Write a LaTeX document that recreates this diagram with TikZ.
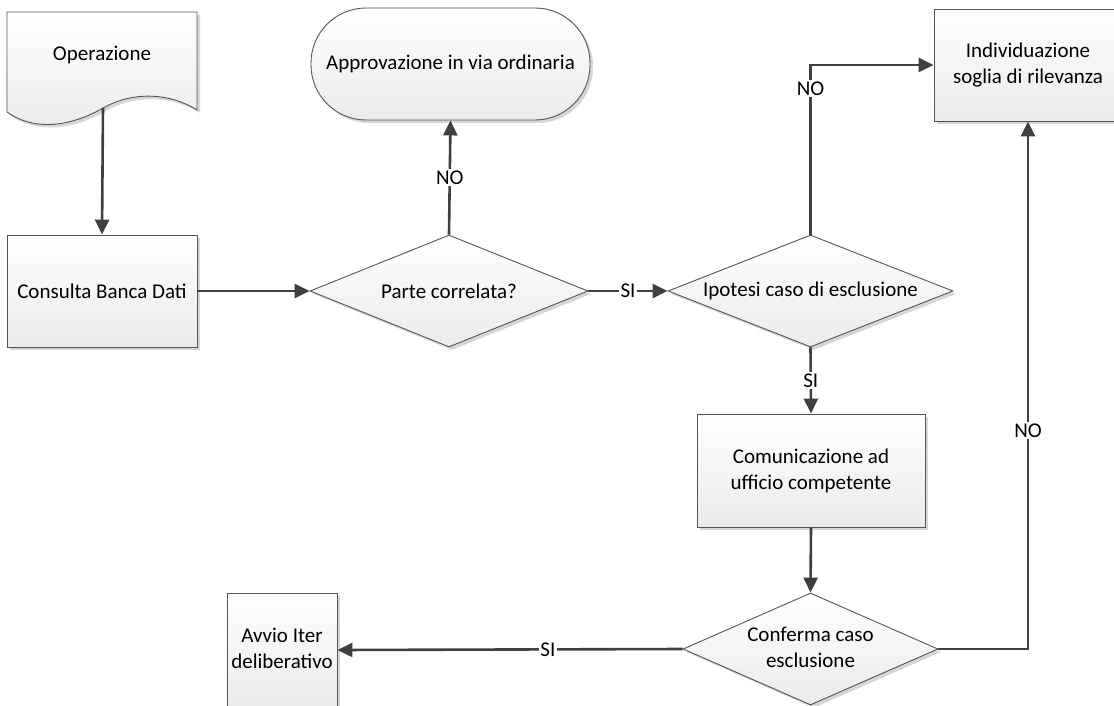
\documentclass[tikz,border=0pt]{standalone}
\usepackage{fontspec}
\setmainfont{Carlito}
\usetikzlibrary{arrows.meta,shapes.geometric,shadows}
\definecolor{conncol}{HTML}{404040}
\definecolor{edgecol}{HTML}{555555}
\begin{document}
\begin{tikzpicture}[x=1pt,y=-1pt,
  every node/.style={font=\fontsize{21}{26}\selectfont, text=black},
  shp/.style={draw=edgecol, line width=0.9pt, top color=white, bottom color=black!8,
    drop shadow={shadow xshift=3pt, shadow yshift=-3pt, fill=black!16, opacity=1}},
  boxnode/.style={shp, rectangle, align=center, inner sep=0pt},
  decnode/.style={shp, diamond, aspect=1, inner sep=0pt},
  termnode/.style={shp, rectangle, rounded corners=55pt, inner sep=0pt},
  conn/.style={draw=conncol, line width=2.6pt, -{Triangle[length=15pt,width=14pt]}},
  lbl/.style={fill=white, inner sep=1.5pt}
]
\useasboundingbox (0,0) rectangle (1114,706);
\fill[white] (0,0) rectangle (1114,706);

% document shape
\draw[shp] (7,12) -- (197,12) -- (197,110)
  .. controls (172,94) and (135,90) .. (103,108)
  .. controls (72,126) and (35,132) .. (7,112) -- cycle;
\node (op) at (102,55) {Operazione};
\coordinate (opb) at (103,108);

\node[boxnode, minimum width=190pt, minimum height=112pt] (cbd) at (102,291) {Consulta Banca Dati};
\node[decnode, minimum width=278pt, minimum height=112pt] (pc) at (449,291) {\makebox[0pt]{Parte correlata?}};
\node[termnode, minimum width=279pt, minimum height=112pt] (appr) at (450.5,64) {Approvazione in via ordinaria};
\node[decnode, minimum width=285pt, minimum height=112pt] (ip) at (810.5,291) {\makebox[0pt]{Ipotesi caso di esclusione}};
\node[boxnode, minimum width=188pt, minimum height=112pt] (ind) at (1028,65) {Individuazione\\soglia di rilevanza};
\node[boxnode, minimum width=228pt, minimum height=113pt] (com) at (811,470.5) {Comunicazione ad\\ufficio competente};
\node[decnode, minimum width=255pt, minimum height=112pt] (cf) at (810.5,649) {\makebox[0pt]{\raisebox{4pt}{\begin{tabular}{@{}c@{}}Conferma caso\\esclusione\end{tabular}}}};
\node[boxnode, minimum width=110pt, minimum height=114pt] (av) at (282,650) {\raisebox{5pt}{\begin{tabular}{@{}c@{}}Avvio Iter\\deliberativo\end{tabular}}};

\draw[conn] (opb) -- (cbd.north);
\draw[conn] (cbd.east) -- (pc.west);
\draw[conn] (pc.north) -- node[lbl]{NO} (appr.south);
\draw[conn] (pc.east) -- node[lbl]{SI} (ip.west);
\draw[conn] (ip.north) |- node[lbl, pos=0.43]{NO} (ind.west);
\draw[conn] (ip.south) -- node[lbl]{SI} (com.north);
\draw[conn] (com.south) -- (cf.north);
\draw[conn] (cf.west) -- node[lbl, pos=0.39]{SI} (av.east);
\draw[conn] (cf.east) -| node[lbl, pos=0.707]{NO} (ind.south);
\end{tikzpicture}
\end{document}
